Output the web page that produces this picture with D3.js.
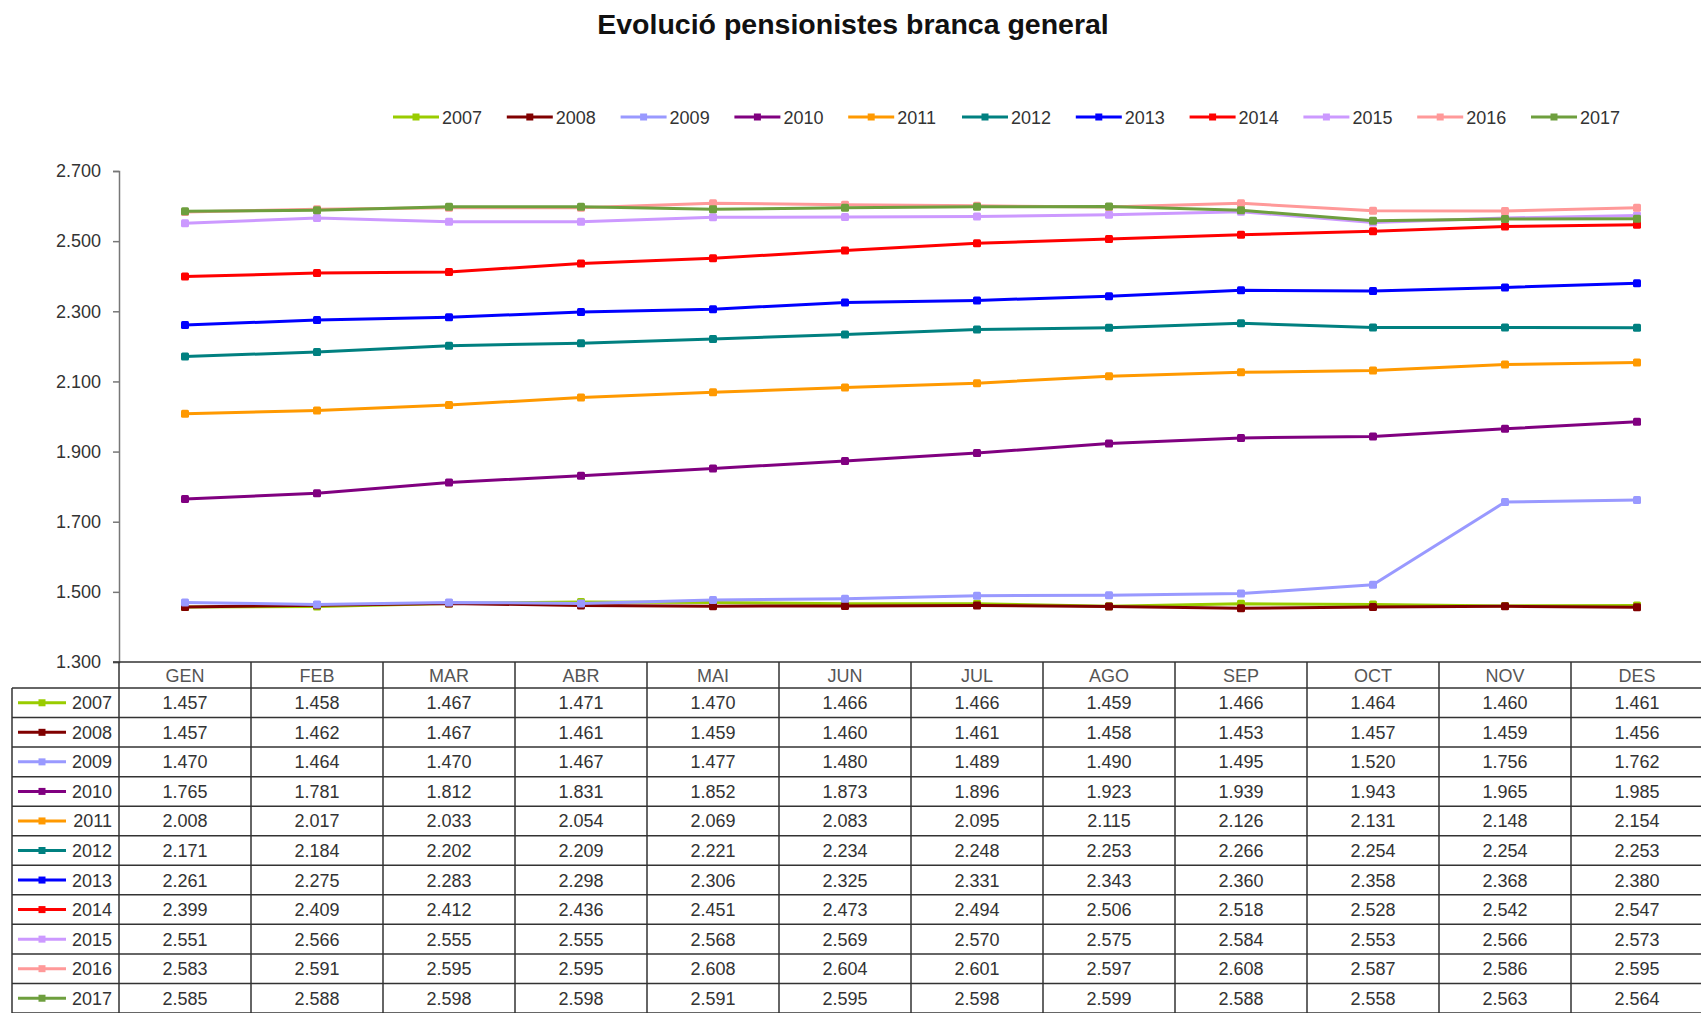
<!DOCTYPE html>
<html>
<head>
<meta charset="utf-8">
<script src="https://cdn.jsdelivr.net/npm/d3@7"></script>
<style>
  html, body { margin: 0; padding: 0; background: #fff; }
  svg { display: block; font-family: "Liberation Sans", Arial, sans-serif; }
</style>
</head>
<body>
<svg id="chart" width="1701" height="1013"></svg>
<script>
// ---------- data ----------
const title = "Evolució pensionistes branca general";
const months = ["GEN","FEB","MAR","ABR","MAI","JUN","JUL","AGO","SEP","OCT","NOV","DES"];
const years = ["2007","2008","2009","2010","2011","2012","2013","2014","2015","2016","2017"];
const colors = ["#99CC00","#800000","#9999FF","#800080","#FF9900","#008080","#0000FF","#FF0000","#CC99FF","#FF9999","#6E9F3E"];
const v2007 = [1457,1458,1467,1471,1470,1466,1466,1459,1466,1464,1460,1461];
const v2008 = [1457,1462,1467,1461,1459,1460,1461,1458,1453,1457,1459,1456];
const v2009 = [1470,1464,1470,1467,1477,1480,1489,1490,1495,1520,1756,1762];
const v2010 = [1765,1781,1812,1831,1852,1873,1896,1923,1939,1943,1965,1985];
const v2011 = [2008,2017,2033,2054,2069,2083,2095,2115,2126,2131,2148,2154];
const v2012 = [2171,2184,2202,2209,2221,2234,2248,2253,2266,2254,2254,2253];
const v2013 = [2261,2275,2283,2298,2306,2325,2331,2343,2360,2358,2368,2380];
const v2014 = [2399,2409,2412,2436,2451,2473,2494,2506,2518,2528,2542,2547];
const v2015 = [2551,2566,2555,2555,2568,2569,2570,2575,2584,2553,2566,2573];
const v2016 = [2583,2591,2595,2595,2608,2604,2601,2597,2608,2587,2586,2595];
const v2017 = [2585,2588,2598,2598,2591,2595,2598,2599,2588,2558,2563,2564];
const yTicks = [1300,1500,1700,1900,2100,2300,2500,2700];

const seriesValues = [v2007,v2008,v2009,v2010,v2011,v2012,v2013,v2014,v2015,v2016,v2017];
const series = years.map((y, i) => ({ year: y, color: colors[i], values: seriesValues[i] }));

// ---------- layout ----------
const svg = d3.select("#chart");
const plotLeft = 119, plotRight = 1703, plotTop = 171, plotBottom = 662;
const headerBottom = 688, tableBottom = 1013, tableLeft = 12;
const rowH = (tableBottom - headerBottom) / years.length;

const loc = d3.formatLocale({ decimal: ",", thousands: ".", grouping: [3], currency: ["", "€"] });
const fmt = loc.format(",d");

const x = d3.scaleBand().domain(months).range([plotLeft, plotRight]).padding(0);
const y = d3.scaleLinear().domain([1300, 2700]).range([plotBottom, plotTop]);
const cx = m => x(m) + x.bandwidth() / 2;

// title
svg.append("text")
  .attr("x", 853).attr("y", 34)
  .attr("text-anchor", "middle")
  .attr("font-size", 28.5).attr("font-weight", "bold")
  .attr("fill", "#111")
  .text(title);

// legend
const legend = svg.append("g");
series.forEach((s, i) => {
  const lx = 393 + i * 113.8, ly = 117;
  const g = legend.append("g");
  g.append("line").attr("x1", lx).attr("x2", lx + 46).attr("y1", ly).attr("y2", ly)
    .attr("stroke", s.color).attr("stroke-width", 3);
  g.append("rect").attr("x", lx + 23 - 3.5).attr("y", ly - 3.5).attr("width", 7).attr("height", 7)
    .attr("fill", s.color);
  g.append("text").attr("x", lx + 49).attr("y", ly + 6.5)
    .attr("font-size", 18).attr("fill", "#333").text(s.year);
});

// y axis
const yAxis = d3.axisLeft(y).tickValues(yTicks).tickFormat(fmt).tickSize(6).tickPadding(12);
const ya = svg.append("g").attr("transform", `translate(${plotLeft},0)`).call(yAxis);
ya.select(".domain").attr("stroke", "#777").attr("stroke-width", 1.5);
ya.selectAll(".tick line").attr("stroke", "#777").attr("stroke-width", 1.5);
ya.selectAll(".tick text").attr("font-size", 18).attr("fill", "#333")
  .attr("font-family", "Liberation Sans, Arial, sans-serif");

// lines
const line = d3.line().x((d, i) => cx(months[i])).y(d => y(d));
const plot = svg.append("g");
series.forEach(s => {
  plot.append("path").datum(s.values)
    .attr("d", line).attr("fill", "none")
    .attr("stroke", s.color).attr("stroke-width", 3).attr("stroke-linejoin", "round");
  plot.selectAll(null).data(s.values).enter().append("rect")
    .attr("x", (d, i) => cx(months[i]) - 4).attr("y", d => y(d) - 4)
    .attr("width", 8).attr("height", 8).attr("rx", 1.5)
    .attr("fill", s.color);
});

// ---------- data table ----------
const table = svg.append("g");
const lineCol = "#333";
table.append("line").attr("x1", plotLeft - 6).attr("x2", plotRight).attr("y1", plotBottom).attr("y2", plotBottom)
  .attr("stroke", lineCol).attr("stroke-width", 1.5);
for (let r = 0; r <= years.length; r++) {
  const yy = headerBottom + r * rowH;
  table.append("line").attr("x1", tableLeft).attr("x2", plotRight).attr("y1", yy).attr("y2", yy)
    .attr("stroke", lineCol).attr("stroke-width", 1.5);
}
table.append("line").attr("x1", tableLeft).attr("x2", tableLeft).attr("y1", headerBottom).attr("y2", tableBottom)
  .attr("stroke", lineCol).attr("stroke-width", 1.5);
months.forEach(m => {
  table.append("line").attr("x1", x(m)).attr("x2", x(m)).attr("y1", plotBottom).attr("y2", tableBottom)
    .attr("stroke", lineCol).attr("stroke-width", 1.5);
});
table.append("line").attr("x1", plotRight - 1).attr("x2", plotRight - 1).attr("y1", plotBottom).attr("y2", tableBottom)
  .attr("stroke", lineCol).attr("stroke-width", 1.5);

// header
months.forEach(m => {
  table.append("text").attr("x", cx(m)).attr("y", (plotBottom + headerBottom) / 2 + 6.5)
    .attr("text-anchor", "middle").attr("font-size", 18).attr("fill", "#555").text(m);
});

// rows
series.forEach((s, r) => {
  const yc = headerBottom + (r + 0.5) * rowH;
  table.append("line").attr("x1", 18).attr("x2", 66).attr("y1", yc).attr("y2", yc)
    .attr("stroke", s.color).attr("stroke-width", 3);
  table.append("rect").attr("x", 42 - 3.5).attr("y", yc - 3.5).attr("width", 7).attr("height", 7)
    .attr("fill", s.color);
  table.append("text").attr("x", 112).attr("y", yc + 6.5).attr("text-anchor", "end")
    .attr("font-size", 18).attr("fill", "#333").text(s.year);
  s.values.forEach((v, i) => {
    table.append("text").attr("x", cx(months[i])).attr("y", yc + 6.5)
      .attr("text-anchor", "middle").attr("font-size", 18).attr("fill", "#333").text(fmt(v));
  });
});
</script>
</body>
</html>
